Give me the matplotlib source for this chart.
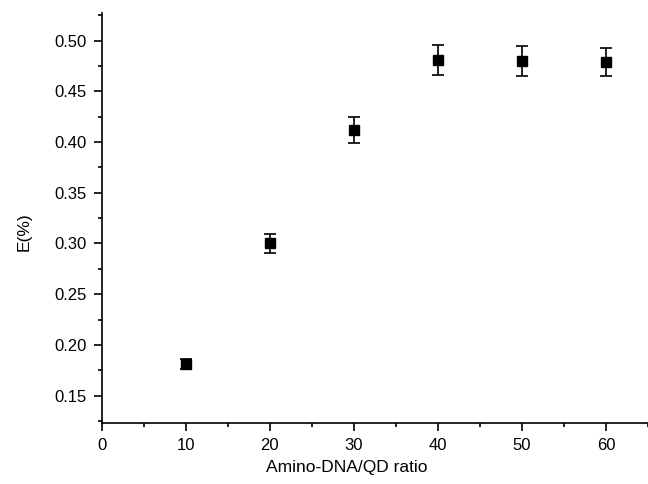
import numpy as np
import matplotlib
matplotlib.use("Agg")
import matplotlib.pyplot as plt
from matplotlib.ticker import MultipleLocator, FormatStrFormatter

plt.rcParams['font.family'] = ['Liberation Sans', 'DejaVu Sans']

ratio = [10, 20, 30, 40, 50, 60]
eff = [0.181, 0.300, 0.412, 0.481, 0.480, 0.479]
err = [0.005, 0.0097, 0.0128, 0.0148, 0.0148, 0.014]

fig = plt.figure(figsize=(6.48, 4.84), dpi=100)
ax = fig.add_axes([0.157, 0.127, 0.843, 0.8455])

ax.errorbar(ratio, eff, yerr=err, fmt='s', color='black', ms=6.5,
            ecolor='black', elinewidth=1.2, capsize=4, capthick=1.2)

ax.set_xlim(0, 65)
ax.set_ylim(0.1234, 0.527)
ax.xaxis.set_major_locator(MultipleLocator(10))
ax.xaxis.set_minor_locator(MultipleLocator(5))
ax.yaxis.set_major_locator(MultipleLocator(0.05))
ax.yaxis.set_minor_locator(MultipleLocator(0.025))
ax.yaxis.set_major_formatter(FormatStrFormatter('%.2f'))

for s in ['top', 'right']:
    ax.spines[s].set_visible(False)
for s in ['left', 'bottom']:
    ax.spines[s].set_linewidth(1.2)

ax.tick_params(which='major', direction='out', length=6, width=1.2, labelsize=12, pad=5)
ax.tick_params(which='minor', direction='out', length=3, width=1.2)

ax.set_xlabel('Amino-DNA/QD ratio', fontsize=12.5)
ax.xaxis.set_label_coords(0.449, -0.092)
ax.set_ylabel('E(%)', fontsize=12.5)
ax.yaxis.set_label_coords(-0.128, 0.466)

fig.savefig('out.png', dpi=100)
